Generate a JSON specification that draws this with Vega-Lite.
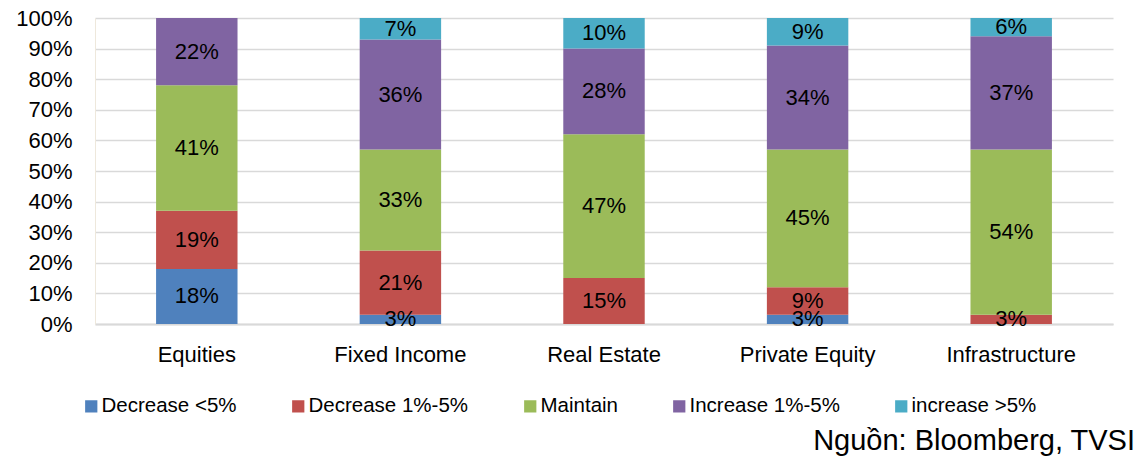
{
  "$schema": "https://vega.github.io/schema/vega-lite/v6.json",
  "width": 1018,
  "height": 306,
  "autosize": "none",
  "padding": {"left": 95, "top": 18, "right": 30, "bottom": 133},
  "background": "white",
  "config": {
    "font": "Liberation Sans",
    "view": {"stroke": null}
  },
  "title": {
    "text": "Nguồn: Bloomberg, TVSI",
    "orient": "bottom",
    "anchor": "end",
    "fontSize": 29,
    "fontWeight": "normal",
    "color": "#000000",
    "offset": 10,
    "dx": 22
  },
  "data": {
    "values": [
      {"cat": "Equities", "series": "Decrease <5%", "idx": 1, "v": 0.18},
      {"cat": "Equities", "series": "Decrease 1%-5%", "idx": 2, "v": 0.19},
      {"cat": "Equities", "series": "Maintain", "idx": 3, "v": 0.41},
      {"cat": "Equities", "series": "Increase 1%-5%", "idx": 4, "v": 0.22},
      {"cat": "Fixed Income", "series": "Decrease <5%", "idx": 1, "v": 0.03},
      {"cat": "Fixed Income", "series": "Decrease 1%-5%", "idx": 2, "v": 0.21},
      {"cat": "Fixed Income", "series": "Maintain", "idx": 3, "v": 0.33},
      {"cat": "Fixed Income", "series": "Increase 1%-5%", "idx": 4, "v": 0.36},
      {"cat": "Fixed Income", "series": "increase >5%", "idx": 5, "v": 0.07},
      {"cat": "Real Estate", "series": "Decrease 1%-5%", "idx": 2, "v": 0.15},
      {"cat": "Real Estate", "series": "Maintain", "idx": 3, "v": 0.47},
      {"cat": "Real Estate", "series": "Increase 1%-5%", "idx": 4, "v": 0.28},
      {"cat": "Real Estate", "series": "increase >5%", "idx": 5, "v": 0.10},
      {"cat": "Private Equity", "series": "Decrease <5%", "idx": 1, "v": 0.03},
      {"cat": "Private Equity", "series": "Decrease 1%-5%", "idx": 2, "v": 0.09},
      {"cat": "Private Equity", "series": "Maintain", "idx": 3, "v": 0.45},
      {"cat": "Private Equity", "series": "Increase 1%-5%", "idx": 4, "v": 0.34},
      {"cat": "Private Equity", "series": "increase >5%", "idx": 5, "v": 0.09},
      {"cat": "Infrastructure", "series": "Decrease 1%-5%", "idx": 2, "v": 0.03},
      {"cat": "Infrastructure", "series": "Maintain", "idx": 3, "v": 0.54},
      {"cat": "Infrastructure", "series": "Increase 1%-5%", "idx": 4, "v": 0.37},
      {"cat": "Infrastructure", "series": "increase >5%", "idx": 5, "v": 0.06}
    ]
  },
  "encoding": {
    "x": {
      "field": "cat",
      "type": "nominal",
      "sort": ["Equities", "Fixed Income", "Real Estate", "Private Equity", "Infrastructure"],
      "scale": {"paddingInner": 0.6, "paddingOuter": 0.3},
      "axis": {
        "title": null,
        "labelAngle": 0,
        "labelFontSize": 22,
        "labelColor": "#000000",
        "labelPadding": 20,
        "ticks": false,
        "domainColor": "#D9D9D9",
        "domainWidth": 2,
        "grid": false
      }
    },
    "y": {
      "field": "v",
      "type": "quantitative",
      "stack": "zero",
      "scale": {"domain": [0, 1]},
      "axis": {
        "title": null,
        "values": [0, 0.1, 0.2, 0.3, 0.4, 0.5, 0.6, 0.7, 0.8, 0.9, 1],
        "format": ".0%",
        "labelFontSize": 22,
        "labelColor": "#000000",
        "labelPadding": 23,
        "ticks": false,
        "domainColor": "#EEE8DC",
        "domainWidth": 1,
        "gridColor": "#D9D9D9",
        "gridWidth": 1.5
      }
    },
    "order": {"field": "idx", "type": "quantitative"}
  },
  "layer": [
    {
      "mark": {"type": "bar"},
      "encoding": {
        "color": {
          "field": "series",
          "type": "nominal",
          "scale": {
            "domain": ["Decrease <5%", "Decrease 1%-5%", "Maintain", "Increase 1%-5%", "increase >5%"],
            "range": ["#4F81BD", "#C0504D", "#9BBB59", "#8064A2", "#4BACC6"]
          },
          "legend": {
            "title": null,
            "orient": "none",
            "legendX": -14,
            "legendY": 378,
            "direction": "horizontal",
            "symbolType": "square",
            "symbolSize": 150,
            "symbolStrokeWidth": 0,
            "labelFontSize": 20.5,
            "labelColor": "#000000",
            "labelOffset": 0,
            "columnPadding": 51,
            "labelLimit": 400
          }
        }
      }
    },
    {
      "mark": {"type": "text", "fontSize": 22, "color": "#000000", "baseline": "middle"},
      "encoding": {
        "y": {"field": "v", "type": "quantitative", "stack": "zero", "bandPosition": 0.5},
        "text": {"field": "v", "type": "quantitative", "format": ".0%"}
      }
    }
  ]
}
